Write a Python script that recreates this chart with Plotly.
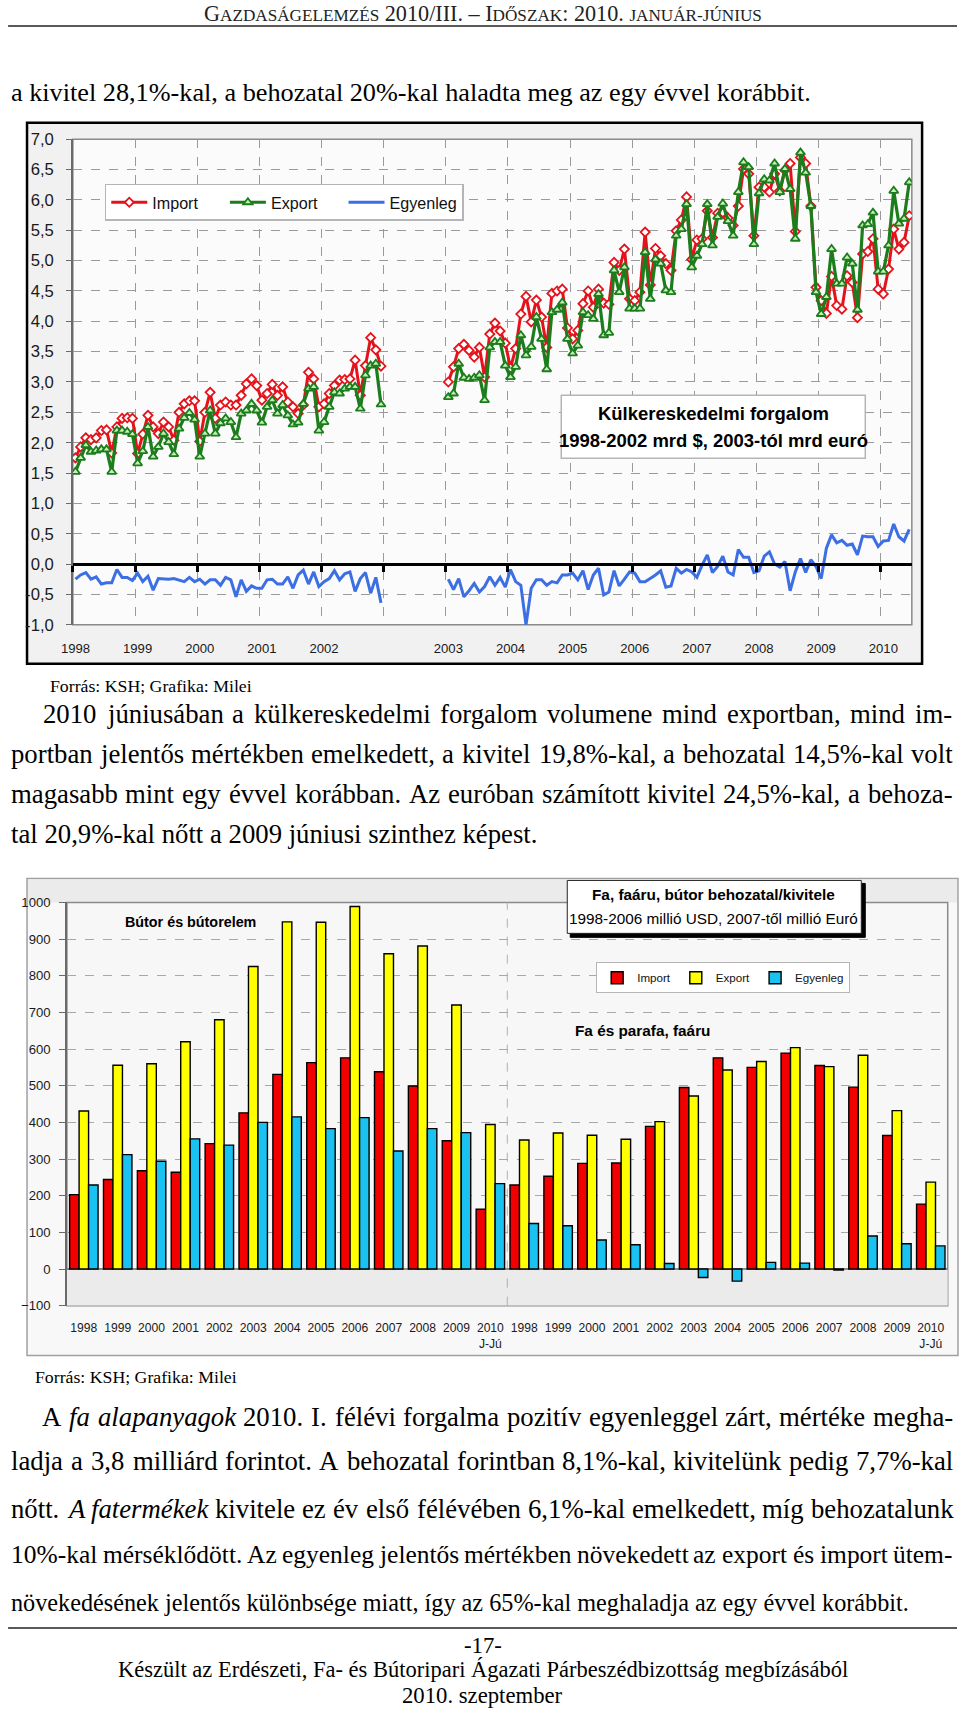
import plotly.graph_objects as go

W, H = 960, 1711
# the photographed page carries an 8px body margin and is scaled to fit; compensate for it
S_PAGE = H / (H + 16)
OFF = 8
def px(x): return (x / S_PAGE - OFF) / W
def py(y): return 1 - (y / S_PAGE - OFF) / H
def fs(f): return f / S_PAGE

# ---------------- Chart 1 data (monthly, mrd) ----------------
imp_1998_2002 = [1.75, 1.93, 2.08, 2.05, 2.08, 2.20, 2.21, 1.83, 2.26, 2.40, 2.41, 2.40,
                 1.82, 2.14, 2.45, 2.26, 2.15, 2.34, 2.26, 2.04, 2.50, 2.64, 2.69, 2.69,
                 2.02, 2.50, 2.83, 2.40, 2.62, 2.67, 2.62, 2.62, 2.78, 2.97, 3.05, 2.94,
                 2.70, 2.81, 2.96, 2.78, 2.92, 2.67, 2.59, 2.48, 2.62, 3.16, 3.05, 2.59,
                 2.64, 2.81, 2.94, 3.03, 3.04, 3.05, 3.36, 2.78, 3.27, 3.73, 3.53, 3.26]
exp_1998_2002 = [1.52, 1.75, 1.96, 1.85, 1.87, 1.89, 1.89, 1.52, 2.20, 2.20, 2.18, 2.14,
                 1.66, 1.86, 2.26, 1.77, 1.93, 2.15, 2.01, 1.81, 2.23, 2.41, 2.49, 2.38,
                 1.77, 2.15, 2.53, 2.15, 2.32, 2.40, 2.34, 2.09, 2.48, 2.53, 2.64, 2.53,
                 2.33, 2.59, 2.70, 2.48, 2.62, 2.45, 2.30, 2.33, 2.64, 2.89, 2.92, 2.20,
                 2.34, 2.59, 2.83, 2.81, 2.89, 2.92, 2.92, 2.56, 3.11, 3.27, 3.30, 2.63]
bal_1998_2002 = [-0.25, -0.18, -0.14, -0.25, -0.21, -0.33, -0.31, -0.31, -0.09, -0.22, -0.22, -0.27,
                 -0.15, -0.29, -0.20, -0.43, -0.24, -0.25, -0.25, -0.24, -0.27, -0.29, -0.22, -0.29,
                 -0.25, -0.33, -0.26, -0.26, -0.35, -0.22, -0.26, -0.54, -0.26, -0.45, -0.36, -0.40,
                 -0.40, -0.26, -0.25, -0.33, -0.33, -0.21, -0.40, -0.18, -0.10, -0.33, -0.13, -0.37,
                 -0.29, -0.24, -0.11, -0.26, -0.16, -0.13, -0.45, -0.24, -0.14, -0.48, -0.22, -0.64]
imp_2003_2010 = [3.00, 3.25, 3.55, 3.62, 3.52, 3.41, 3.57, 3.08, 3.79, 3.97, 3.84, 3.64,
                 3.23, 3.55, 4.12, 4.41, 3.99, 4.35, 4.07, 3.57, 4.46, 4.50, 4.53, 3.89,
                 3.71, 3.85, 4.29, 4.50, 4.23, 4.53, 4.30, 4.28, 4.97, 4.84, 5.19, 4.37,
                 4.34, 4.48, 5.47, 4.60, 5.20, 5.08, 4.95, 4.84, 5.49, 5.67, 6.05, 5.02,
                 5.34, 5.36, 5.82, 5.38, 5.78, 5.79, 5.70, 5.58, 5.90, 6.51, 6.43, 5.41,
                 6.21, 6.21, 6.13, 6.43, 6.15, 6.49, 6.60, 5.48, 6.70, 6.60, 5.90, 4.56,
                 4.34, 4.13, 4.74, 4.26, 4.20, 4.75, 4.64, 4.06, 5.11, 5.15, 5.36, 4.53,
                 4.45, 4.86, 5.52, 5.19, 5.30, 5.74]
exp_2003_2010 = [2.75, 2.81, 3.30, 3.07, 3.05, 3.07, 3.11, 2.70, 3.57, 3.66, 3.66, 3.27,
                 3.08, 3.25, 3.77, 3.44, 3.58, 4.07, 3.71, 3.21, 4.15, 4.19, 4.31, 3.71,
                 3.47, 3.60, 4.15, 4.10, 4.04, 4.45, 3.77, 3.81, 4.84, 4.48, 4.89, 4.21,
                 4.21, 4.21, 5.14, 4.37, 5.02, 4.95, 4.51, 4.48, 5.41, 5.52, 5.93, 4.89,
                 5.08, 5.27, 5.93, 5.25, 5.72, 5.94, 5.65, 5.41, 6.13, 6.62, 6.54, 5.27,
                 6.11, 6.34, 6.32, 6.60, 6.13, 6.51, 6.18, 5.36, 6.78, 6.45, 5.90, 4.48,
                 4.12, 4.40, 5.19, 4.62, 4.62, 5.05, 4.95, 4.19, 5.58, 5.60, 5.79, 4.82,
                 4.82, 5.25, 6.15, 5.61, 5.69, 6.29]
bal_2003_2010 = [-0.25, -0.42, -0.24, -0.54, -0.44, -0.32, -0.46, -0.37, -0.21, -0.35, -0.22, -0.38,
                 -0.09, -0.29, -0.35, -1.00, -0.40, -0.26, -0.26, -0.35, -0.29, -0.31, -0.18, -0.18,
                 -0.15, -0.26, -0.11, -0.42, -0.18, -0.07, -0.51, -0.46, -0.11, -0.36, -0.25, -0.13,
                 -0.15, -0.29, -0.29, -0.24, -0.18, -0.11, -0.38, -0.36, -0.07, -0.15, -0.09, -0.13,
                 -0.22, -0.02, 0.15, -0.14, -0.04, 0.13, -0.13, -0.18, 0.24, 0.11, 0.11, -0.14,
                 -0.11, 0.13, 0.20, 0.00, -0.05, 0.04, -0.44, -0.13, 0.09, -0.14, 0.07, -0.04,
                 -0.24, 0.26, 0.48, 0.35, 0.39, 0.31, 0.33, 0.15, 0.46, 0.45, 0.45, 0.29,
                 0.38, 0.39, 0.66, 0.45, 0.38, 0.57]
year_slots = ["1998", "1999", "2000", "2001", "2002", "", "2003", "2004",
              "2005", "2006", "2007", "2008", "2009", "2010"]
y1_ticks = [-1.0, -0.5, 0.0, 0.5, 1.0, 1.5, 2.0, 2.5, 3.0, 3.5, 4.0, 4.5, 5.0, 5.5, 6.0, 6.5, 7.0]

# ---------------- Chart 2 data (yearly, millió USD / Euró) ----------------
bar_years = ["1998", "1999", "2000", "2001", "2002", "2003", "2004", "2005",
             "2006", "2007", "2008", "2009", "2010<br>J-Jú"]
butor_import = [203, 244, 268, 264, 342, 426, 531, 563, 576, 538, 499, 350, 163]
butor_export = [431, 556, 560, 620, 680, 825, 947, 946, 989, 860, 881, 720, 394]
butor_balance = [229, 312, 294, 355, 338, 400, 415, 383, 413, 322, 383, 372, 233]
fa_import = [229, 253, 288, 289, 389, 495, 576, 550, 589, 555, 496, 364, 177]
fa_export = [352, 371, 365, 354, 402, 472, 543, 566, 604, 552, 583, 432, 237]
fa_balance = [124, 118, 79, 66, 15, -23, -33, 18, 16, -3, 90, 69, 63]
y2_ticks = [-100, 0, 100, 200, 300, 400, 500, 600, 700, 800, 900, 1000]

SERIF = "Liberation Serif, Times New Roman, serif"
SANS = "Liberation Sans, Arial, sans-serif"

# ---------------- geometry of the page ----------------
C1_L, C1_R, C1_T, C1_B = 69, 910.7, 138.4, 624.8
C2_L, C2_R, C2_T, C2_B = 63, 946.7, 903, 1307

n_slots = len(year_slots)
n_cat = 12 * (n_slots - 1) + 6
x_a = list(range(len(imp_1998_2002)))
start_b = 12 * year_slots.index("2003")
x_b = [start_b + k for k in range(len(imp_2003_2010))]
xs = x_a + [None] + x_b
jan_idx = [12 * s for s in range(n_slots)]
bounds = [12 * s - 0.5 for s in range(n_slots)]

fig = go.Figure()

RED, GREEN, BLUE = "#e4131b", "#1c7d1c", "#3b6fe3"
fig.add_trace(go.Scatter(x=xs, y=imp_1998_2002 + [None] + imp_2003_2010, name="Import",
                         mode="lines+markers", line=dict(color=RED, width=3),
                         marker=dict(symbol="diamond", size=7, color="white",
                                     line=dict(color=RED, width=1.8)),
                         xaxis="x", yaxis="y", legend="legend"))
fig.add_trace(go.Scatter(x=xs, y=exp_1998_2002 + [None] + exp_2003_2010, name="Export",
                         mode="lines+markers", line=dict(color=GREEN, width=3.2),
                         marker=dict(symbol="triangle-up", size=8, color="#c4efb6",
                                     line=dict(color=GREEN, width=1.8)),
                         xaxis="x", yaxis="y", legend="legend"))
fig.add_trace(go.Scatter(x=xs, y=bal_1998_2002 + [None] + bal_2003_2010, name="Egyenleg",
                         mode="lines", line=dict(color=BLUE, width=3),
                         xaxis="x", yaxis="y", legend="legend"))
for ax in ("x2", "x3"):
    fig.add_trace(go.Scatter(x=[None], y=[None], xaxis=ax, yaxis="y", showlegend=False,
                             hoverinfo="skip"))

gx = list(range(2 * len(bar_years)))
for name, vals, col in (("Import", butor_import + fa_import, "#f20000"),
                        ("Export", butor_export + fa_export, "#ffff00"),
                        ("Egyenleg", butor_balance + fa_balance, "#19c2f0")):
    fig.add_trace(go.Bar(x=gx, y=vals, name=name, marker=dict(color=col,
                         line=dict(color="black", width=1.4)),
                         xaxis="x4", yaxis="y4", legend="legend2"))

# ---------------- axes ----------------
c1_dom_x = [px(C1_L), px(C1_R)]
c1_dom_y = [py(C1_B), py(C1_T)]
xr1 = [-0.5, n_cat - 0.5]
zero_pos = c1_dom_y[0] + (0 - y1_ticks[0]) / (y1_ticks[-1] - y1_ticks[0]) * (c1_dom_y[1] - c1_dom_y[0])

fig.update_layout(
    xaxis=dict(domain=c1_dom_x, range=xr1, anchor="y", tickvals=bounds[1:],
               showticklabels=False, ticks="", showgrid=True, gridcolor="#9a9a9a",
               griddash="dash", gridwidth=1, zeroline=False, showline=False),
    xaxis2=dict(domain=c1_dom_x, range=xr1, overlaying="x", anchor="y", tickvals=jan_idx,
                ticktext=year_slots, ticks="", showgrid=False, zeroline=False, showline=False,
                tickfont=dict(family=SANS, size=fs(13), color="#1a1a1a"), ticklabelstandoff=14),
    xaxis3=dict(domain=c1_dom_x, range=xr1, overlaying="x", anchor="free", position=zero_pos,
                tickvals=bounds, showticklabels=False, ticks="outside", ticklen=6, tickwidth=3,
                tickcolor="black", showline=True, linecolor="black", linewidth=3,
                showgrid=False, zeroline=False),
    yaxis=dict(domain=c1_dom_y, range=[y1_ticks[0], y1_ticks[-1]], tickvals=y1_ticks,
               ticktext=[f"{v:.1f}".replace(".", ",") for v in y1_ticks],
               showgrid=True, gridcolor="#9a9a9a", griddash="dash", gridwidth=1,
               zeroline=False, showline=True, linecolor="#6a6a6a", linewidth=1.5,
               ticks="outside", ticklen=5, tickcolor="#6a6a6a",
               tickfont=dict(family=SANS, size=fs(16.5), color="#1a1a1a"), ticklabelstandoff=9),
    xaxis4=dict(domain=[px(C2_L), px(C2_R)], range=[-0.5, len(gx) - 0.5], anchor="y4",
                tickvals=gx, ticktext=bar_years * 2, ticks="", showgrid=False,
                zeroline=False, showline=False,
                tickfont=dict(family=SANS, size=fs(12), color="#1a1a1a"), ticklabelstandoff=13),
    yaxis4=dict(domain=[py(C2_B), py(C2_T)], range=[y2_ticks[0], y2_ticks[-1]],
                tickvals=y2_ticks, anchor="x4", showgrid=True, gridcolor="#a8a8a8",
                griddash="dash", gridwidth=1, zeroline=True, zerolinecolor="#8a8a8a",
                zerolinewidth=1.5, showline=True, linecolor="#6a6a6a", linewidth=1.5,
                ticks="outside", ticklen=6, tickcolor="#6a6a6a",
                tickfont=dict(family=SANS, size=fs(13), color="#1a1a1a"), ticklabelstandoff=6),
)

# ---------------- background shapes ----------------
shapes = []
def rect(x0, y0, x1, y1, fill, line="rgba(0,0,0,0)", lw=0, layer="below"):
    shapes.append(dict(type="rect", xref="paper", yref="paper", x0=px(x0), x1=px(x1),
                       y0=py(y1), y1=py(y0), fillcolor=fill,
                       line=dict(color=line, width=lw), layer=layer))
def hline(x0, x1, y, color="black", lw=1.5):
    shapes.append(dict(type="line", xref="paper", yref="paper", x0=px(x0), x1=px(x1),
                       y0=py(y), y1=py(y), line=dict(color=color, width=lw)))

hline(4, 956, 25, "#222", 1.6)
rect(23, 122, 921, 664, "#f1f1f1", "black", 2.5)
rect(C1_L, C1_T, C1_R, C1_B, "#fbfbfb", "#8a8a8a", 1.5)
rect(23, 879, 957, 1357, "#f8f8f8", "#a0a0a0", 1.5)
rect(24, 880, 956, 903, "#ebebeb")
rect(C2_L, C2_T, C2_R, C2_B, "#f7f7f7", "#8a8a8a", 1.5)
shapes.append(dict(type="rect", xref="x4 domain", yref="y4", x0=0, x1=1, y0=y2_ticks[0], y1=0,
                   fillcolor="#ebebeb", line=dict(width=0), layer="below"))
shapes.append(dict(type="line", xref="x4", yref="y4 domain", x0=len(bar_years) - 0.5,
                   x1=len(bar_years) - 0.5, y0=0, y1=1,
                   line=dict(color="#b0b0b0", width=1, dash="dash"), layer="below"))
# title boxes
rect(559, 395, 864, 458, "white", "#b5b5b5", 1.5, layer="above")
rect(568, 884, 864, 938, "black", "black", 1, layer="above")
rect(565, 881, 860, 934, "white", "#222", 1, layer="above")
hline(4, 956, 1630, "#222", 1.6)

# ---------------- text ----------------
annotations = []
def txt(text, x, mid_y, size, family=SERIF, xanchor="left", color="black"):
    annotations.append(dict(text=text, x=px(x), y=py(mid_y), xref="paper", yref="paper",
                            xanchor=xanchor, yanchor="middle", showarrow=False,
                            font=dict(family=family, size=fs(size), color=color),
                            borderpad=0, borderwidth=0))

TNR = dict(zip("abcdefghijklmnopqrstuvwxyz",
               [444, 500, 444, 500, 444, 333, 500, 500, 278, 278, 500, 278, 778, 500, 500, 500,
                500, 333, 389, 278, 500, 500, 722, 500, 500, 444]))
TNR.update(dict(zip("ABCDEFGHIJKLMNOPQRSTUVWXYZ",
                    [722, 667, 667, 722, 611, 556, 722, 722, 333, 389, 722, 611, 889, 722, 722,
                     556, 722, 667, 556, 611, 722, 722, 944, 722, 722, 611])))
TNR.update({c: 500 for c in "0123456789"})
TNR.update({" ": 250, ",": 250, ".": 250, "%": 833, "-": 333, ":": 278, ";": 278, "/": 278,
            "–": 500, "$": 500, "á": 444, "é": 444, "í": 278, "ó": 500, "ö": 500, "ő": 500,
            "ú": 500, "ü": 500, "ű": 500, "Á": 722, "É": 611, "Í": 333, "Ó": 722, "Ö": 722,
            "Ő": 722, "Ú": 722, "Ü": 722, "Ű": 722})
TNR_IT = dict(TNR)
TNR_IT.update({"a": 500, "f": 278, "y": 444, "k": 444, "r": 389, "m": 722, "A": 611})
def tw(s, size, italic=False):
    tab = TNR_IT if italic else TNR
    return sum(tab.get(c, 500) for c in s) * size / 1000

def line(text, x0, x1, base, size, justify=True, center=False):
    items = [(w.strip("*"), w.startswith("*")) for w in text.split(" ")]
    ws = [tw(t, size, it) for t, it in items]
    sp = tw(" ", size)
    natural = sum(ws) + sp * (len(items) - 1)
    if natural > x1 - x0:
        size = size * (x1 - x0) / natural
        ws = [tw(t, size, it) for t, it in items]
        sp = tw(" ", size)
    mid = base - 0.34 * size
    if not justify or len(items) < 2:
        html = " ".join(f"<i>{t}</i>" if it else t for t, it in items)
        if center:
            txt(html, (x0 + x1) / 2, mid, size, xanchor="center")
        else:
            txt(html, x0, mid, size)
        return
    gap = (x1 - x0 - sum(ws)) / (len(items) - 1)
    x = x0
    for (t, it), w in zip(items, ws):
        txt(f"<i>{t}</i>" if it else t, x, mid, size)
        x += w + gap

BIG, SMALL = 22, 17
def sc(t): return f'<span style="font-size:{fs(SMALL):.2f}px">{t}</span>'
header = ("G" + sc("AZDASÁGELEMZÉS") + " 2010/III. – I" + sc("DŐSZAK") + ": 2010. "
          + sc("JANUÁR-JÚNIUS"))
txt(header, 480, 12.5, BIG, xanchor="center", color="#222")

line("a kivitel 28,1%-kal, a behozatal 20%-kal haladta meg az egy évvel korábbit.",
     7, 955, 100, 26, justify=False)
line("Forrás: KSH; Grafika: Milei", 46, 400, 692, 17.6, justify=False)

P = 26.5
line("2010 júniusában a külkereskedelmi forgalom volumene mind exportban, mind im-", 39, 951, 723, P)
line("portban jelentős mértékben emelkedett, a kivitel 19,8%-kal, a behozatal 14,5%-kal volt", 7, 951, 763, P)
line("magasabb mint egy évvel korábban. Az euróban számított kivitel 24,5%-kal, a behoza-", 7, 951, 803, P)
line("tal 20,9%-kal nőtt a 2009 júniusi szinthez képest.", 7, 951, 843, P, justify=False)

line("Forrás: KSH; Grafika: Milei", 31, 400, 1384, 17.6, justify=False)

line("A *fa* *alapanyagok* 2010. I. félévi forgalma pozitív egyenleggel zárt, mértéke megha-", 38, 951, 1428, P)
line("ladja a 3,8 milliárd forintot. A behozatal forintban 8,1%-kal, kivitelünk pedig 7,7%-kal", 7, 951, 1472, P)
line("nőtt. *A* *fatermékek* kivitele ez év első félévében 6,1%-kal emelkedett, míg behozatalunk", 7, 951, 1520, P)
line("10%-kal mérséklődött. Az egyenleg jelentős mértékben növekedett az export és import ütem-", 7, 951, 1565, P)
line("növekedésének jelentős különbsége miatt, így az 65%-kal meghaladja az egy évvel korábbit.", 7, 897, 1613, P, justify=False)

line("-17-", 380, 580, 1655, 22.5, justify=False, center=True)
line("Készült az Erdészeti, Fa- és Bútoripari Ágazati Párbeszédbizottság megbízásából",
     118, 842, 1679, 22.5, justify=False, center=True)
line("2010. szeptember", 380, 580, 1705, 22.5, justify=False, center=True)

# chart titles / labels
txt("<b>Külkereskedelmi forgalom</b>", 711.5, 413.3, 18.3, SANS, "center")
txt("<b>1998-2002 mrd $, 2003-tól mrd euró</b>", 711.5, 440.7, 18.3, SANS, "center")
txt("<b>Fa, faáru, bútor behozatal/kivitele</b>", 712, 895, 15.2, SANS, "center")
txt("1998-2006 millió USD, 2007-től millió Euró", 712, 919, 15.2, SANS, "center")
txt("<b>Bútor és bútorelem</b>", 187.5, 923, 14.2, SANS, "center")
txt("<b>Fa és parafa, faáru</b>", 640, 1031.7, 15.2, SANS, "center")

fig.update_layout(
    width=W, height=H, margin=dict(l=0, r=0, t=0, b=0, pad=0),
    paper_bgcolor="white", plot_bgcolor="rgba(0,0,0,0)",
    separators=", ", barmode="group", bargap=0.16, bargroupgap=0,
    shapes=shapes, annotations=annotations, hovermode=False,
    legend=dict(x=px(101), y=py(183), xanchor="left", yanchor="top", orientation="h",
                bgcolor="white", bordercolor="#b5b5b5", borderwidth=1.5,
                font=dict(family=SANS, size=fs(16), color="#111"),
                entrywidth=fs(67), entrywidthmode="pixels", itemwidth=36, tracegroupgap=0),
    legend2=dict(x=px(594), y=py(963), xanchor="left", yanchor="top", orientation="h",
                 bgcolor="white", bordercolor="#b5b5b5", borderwidth=1,
                 font=dict(family=SANS, size=fs(11.5), color="#111"),
                 itemwidth=30, tracegroupgap=0),
)

fig.write_html("out.html")
